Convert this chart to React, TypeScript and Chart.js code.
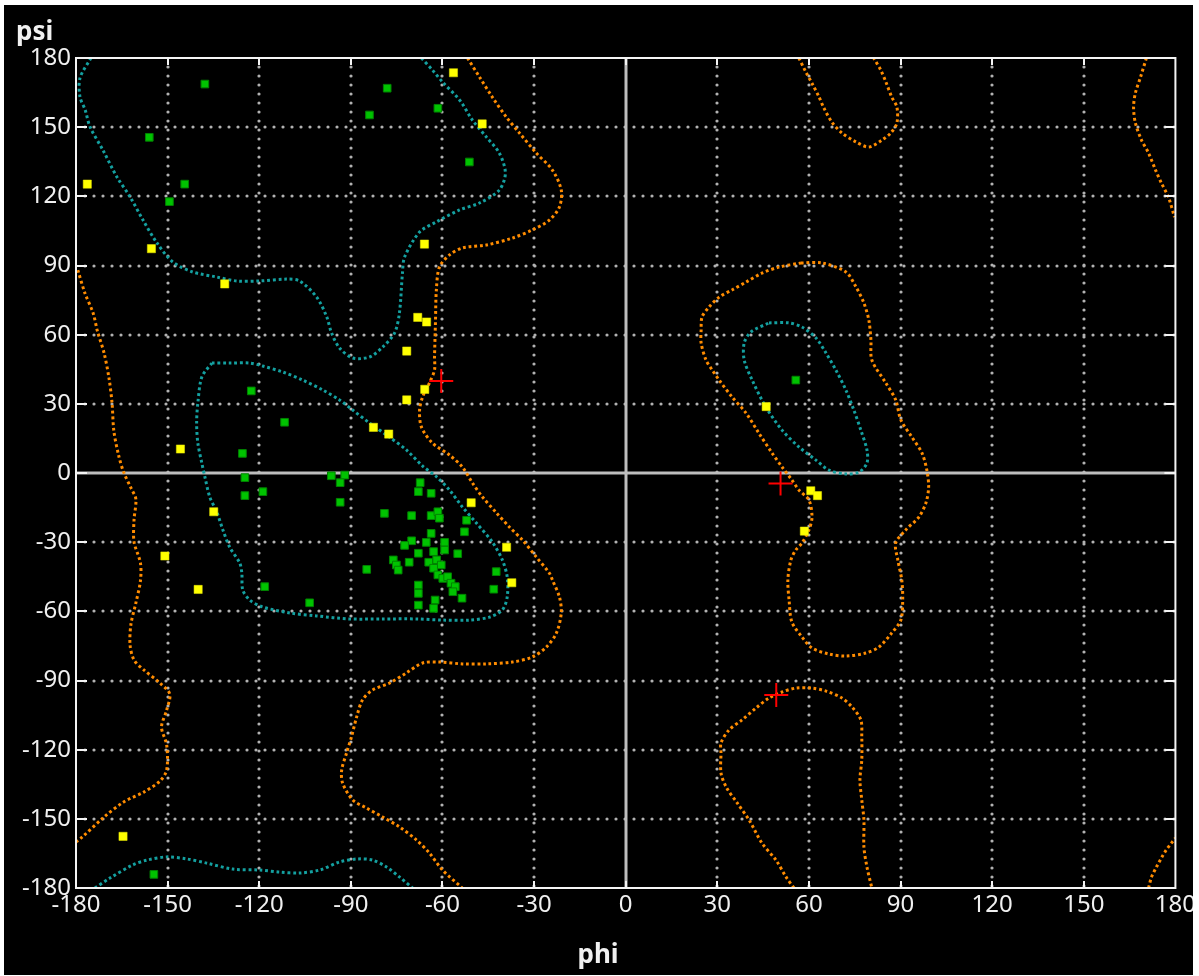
import React, { useEffect, useRef } from "react";
import { Chart, registerables } from "chart.js";

Chart.register(...registerables);

type P = [number, number];

// axis ticks (degrees)
const PHI_TICKS = [-180, -150, -120, -90, -60, -30, 0, 30, 60, 90, 120, 150, 180];
const PSI_TICKS = [-180, -150, -120, -90, -60, -30, 0, 30, 60, 90, 120, 150, 180];

// residues in favoured regions (green)
const GREEN: P[] = [
  [-137.8, 168.7], [-156.0, 145.6], [-144.4, 125.3], [-149.4, 117.7], [-78.1, 166.9],
  [-83.9, 155.3], [-61.5, 158.2], [-51.2, 134.9], [-122.6, 35.6], [-111.7, 22.0],
  [-125.5, 8.5], [-124.7, -2.0], [-124.7, -9.8], [-118.8, -8.1], [-118.2, -49.3],
  [-103.5, -56.3], [-96.4, -1.2], [-92.0, -0.9], [-93.5, -4.2], [-93.5, -12.7],
  [-79.0, -17.5], [-67.3, -4.2], [-67.9, -8.1], [-63.7, -8.8], [-70.1, -18.5],
  [-63.7, -18.5], [-61.5, -16.8], [-61.0, -19.6], [-52.1, -20.5], [-52.8, -25.5],
  [-63.7, -26.2], [-65.3, -30.1], [-70.1, -29.4], [-72.4, -31.4], [-59.3, -30.1],
  [-59.3, -33.4], [-62.9, -34.1], [-67.9, -34.8], [-55.0, -35.0], [-76.1, -37.7],
  [-75.1, -39.9], [-74.5, -42.1], [-70.9, -38.7], [-64.5, -38.7], [-61.9, -37.7],
  [-60.4, -39.9], [-62.9, -41.3], [-61.5, -44.2], [-59.9, -45.7], [-58.3, -45.0],
  [-57.2, -47.8], [-55.8, -49.3], [-56.6, -51.5], [-53.6, -54.3], [-42.4, -42.8],
  [-43.2, -50.4], [-84.8, -41.8], [-67.9, -48.6], [-67.9, -52.2], [-67.9, -57.3],
  [-62.4, -55.1], [-62.9, -58.7], [-154.5, -174.1], [55.7, 40.3],
];

// residues in allowed regions (yellow)
const YELLOW: P[] = [
  [-56.4, 173.6], [-47.0, 151.4], [-176.3, 125.3], [-155.3, 97.3], [-131.3, 82.0],
  [-65.9, 99.3], [-68.1, 67.5], [-65.2, 65.5], [-71.7, 52.9], [-65.8, 36.3],
  [-71.7, 31.7], [-82.6, 19.8], [-77.6, 16.9], [-145.8, 10.4], [-134.9, -16.8],
  [-150.9, -36.0], [-140.0, -50.5], [-50.6, -12.9], [-39.0, -32.2], [-37.3, -47.6],
  [-164.6, -157.6], [46.0, 28.8], [60.6, -7.7], [62.8, -9.8], [58.5, -25.2],
];

// outliers (red crosses)
const OUTLIERS: P[] = [
  [-60.4, 39.9], [50.7, -4.5], [49.3, -96.3],
];

// favoured-region contours (cyan)
const CYAN_BETA: P[] = [
  [-175.1, 180], [-178.7, 171.3], [-178.7, 163.1], [-177.0, 157.5], [-175.4, 150.1],
  [-171.2, 140.1], [-166.6, 128.4], [-162.3, 119.8], [-158.1, 109.8], [-153.5, 99.8],
  [-148.3, 91.5], [-141.8, 87.2], [-133.9, 85.0], [-127.4, 83.3], [-119.8, 83.3],
  [-111.0, 84.1], [-106.8, 83.3], [-101.2, 76.3], [-97.9, 67.7], [-96.3, 60.7],
  [-93.7, 54.2], [-89.4, 49.9], [-83.9, 50.3], [-79.6, 54.6], [-75.7, 60.7],
  [-74.1, 69.4], [-73.1, 86.7], [-72.4, 93.7], [-67.5, 104.5], [-62.0, 108.9],
  [-54.4, 114.1], [-47.9, 117.1], [-41.4, 122.7], [-39.4, 130.1], [-41.4, 138.8],
  [-45.6, 145.7], [-50.2, 153.1], [-54.4, 161.8], [-60.0, 169.6], [-63.3, 174.8],
  [-66.9, 180],
];
const CYAN_BETA_WRAP: P[] = [
  [-173.8, -180], [-168.9, -175.7], [-161.4, -170.0], [-156.8, -167.9], [-150.3, -166.5],
  [-143.7, -167.4], [-137.2, -169.2], [-128.7, -171.8], [-119.8, -172.2], [-113.3, -173.1],
  [-106.8, -173.5], [-100.2, -172.2], [-93.7, -168.7], [-87.8, -167.4], [-82.9, -167.9],
  [-78.3, -170.9], [-74.1, -175.2], [-69.8, -180],
];
const CYAN_ALPHA: P[] = [
  [-135.5, 47.7], [-129.7, 47.7], [-123.1, 47.7], [-118.9, 46.4], [-112.3, 43.8],
  [-105.8, 40.3], [-99.2, 36.0], [-93.7, 31.7], [-89.4, 27.3], [-83.9, 21.7],
  [-77.4, 15.6], [-71.8, 10.0], [-66.5, 3.0], [-61.9, -1.7], [-57.7, -7.4],
  [-53.5, -14.7], [-48.9, -21.7], [-43.7, -29.9], [-40.4, -37.7], [-38.8, -45.1],
  [-38.8, -53.8], [-40.4, -59.4], [-44.6, -62.5], [-51.2, -63.8], [-60.0, -63.8],
  [-68.5, -63.3], [-79.6, -63.3], [-90.4, -63.3], [-101.2, -62.0], [-110.0, -60.7],
  [-118.9, -58.1], [-123.1, -55.1], [-125.4, -50.7], [-125.7, -43.4], [-126.4, -39.0],
  [-129.7, -32.1], [-131.9, -24.7], [-133.9, -16.9], [-136.2, -10.4], [-137.8, -1.7],
  [-138.8, 4.3], [-140.1, 13.0], [-140.5, 21.7], [-140.1, 30.4], [-138.8, 41.6],
  [-135.5, 47.7],
];
const CYAN_LEFT_ALPHA: P[] = [
  [46.9, 65.1], [53.5, 65.1], [57.7, 63.3], [62.3, 58.6], [65.6, 52.0],
  [68.8, 44.7], [72.1, 36.0], [74.7, 27.3], [77.0, 18.6], [79.0, 10.0],
  [79.0, 4.3], [76.4, 0.4], [72.1, -0.4], [66.5, 1.3], [62.3, 5.6],
  [56.7, 11.3], [51.2, 18.6], [45.9, 28.6], [41.4, 40.3], [38.8, 49.0],
  [38.8, 56.4], [41.0, 61.2], [46.9, 65.1],
];

// allowed-region contours (orange)
const ORANGE_MAIN: P[] = [
  [-51.8, 180], [-47.9, 171.8], [-43.7, 163.1], [-39.1, 154.4], [-34.8, 147.5],
  [-29.3, 138.8], [-24.0, 131.4], [-21.1, 122.7], [-21.7, 115.4], [-25.0, 109.7],
  [-30.6, 105.4], [-37.1, 101.9], [-45.6, 98.9], [-53.5, 97.6], [-57.7, 94.6],
  [-61.0, 89.3], [-62.0, 79.4], [-62.3, 65.1], [-62.6, 50.3], [-62.6, 44.7],
  [-64.3, 39.0], [-66.5, 33.0], [-67.5, 27.3], [-66.9, 20.0], [-63.3, 13.0],
  [-57.7, 7.8], [-53.5, 2.6], [-50.2, -4.3], [-46.9, -10.4], [-42.3, -17.3],
  [-38.1, -23.4], [-33.8, -29.1], [-29.3, -36.4], [-25.0, -43.4], [-24.0, -46.4],
  [-21.7, -53.8], [-21.1, -60.7], [-22.7, -69.4], [-26.0, -75.5], [-30.6, -79.8],
  [-37.1, -82.0], [-45.6, -82.8], [-53.5, -82.8], [-61.0, -82.0], [-66.5, -82.4],
  [-71.8, -86.7], [-77.3, -91.1], [-82.9, -94.1], [-86.2, -98.5], [-88.1, -105.8],
  [-89.8, -114.5], [-91.4, -121.4], [-93.0, -128.8], [-92.7, -134.5], [-89.4, -141.8],
  [-84.9, -145.3], [-79.6, -149.2], [-74.1, -153.5], [-68.5, -159.2], [-64.3, -164.8],
  [-60.0, -172.2], [-53.5, -180],
];
const ORANGE_LEFT_EDGE: P[] = [
  [-179.4, 88.0], [-177.1, 78.1], [-174.4, 69.4], [-173.0, 61.6], [-170.8, 52.0],
  [-169.2, 41.2], [-168.2, 30.4], [-167.6, 18.2], [-166.0, 7.4], [-164.4, 0.4],
  [-162.0, -6.5], [-160.4, -11.3], [-161.0, -20.4], [-161.0, -29.9], [-158.9, -39.0],
  [-158.9, -46.8], [-160.4, -56.4], [-162.0, -65.5], [-162.3, -74.6], [-161.0, -81.1],
  [-157.8, -85.4], [-152.5, -91.1], [-149.3, -95.9], [-150.3, -102.8], [-152.0, -110.2],
  [-150.3, -118.0], [-150.3, -128.8], [-152.5, -133.6], [-157.8, -138.4], [-164.4, -142.7],
  [-170.8, -149.2], [-178.3, -158.3], [-180, -160],
];
const ORANGE_LEFT_ALPHA: P[] = [
  [57.4, 91.1], [64.3, 91.1], [72.1, 87.2], [75.4, 80.7], [78.0, 73.7],
  [79.6, 66.4], [80.3, 57.7], [80.6, 49.0], [85.2, 39.0], [88.4, 31.7],
  [90.1, 23.0], [93.7, 15.6], [97.0, 8.7], [98.6, 1.3], [99.2, -6.1],
  [98.3, -13.0], [96.0, -19.1], [91.7, -24.7], [88.4, -30.4], [89.1, -37.7],
  [90.4, -46.4], [90.7, -55.1], [90.1, -63.8], [87.1, -69.4], [82.9, -75.5],
  [78.6, -78.1], [72.1, -79.4], [66.5, -78.5], [61.0, -75.9], [57.7, -71.1],
  [54.4, -64.6], [53.5, -55.1], [53.1, -46.4], [54.1, -37.7], [55.7, -33.4],
  [57.7, -30.4], [60.0, -24.7], [61.0, -19.1], [60.0, -11.7], [56.7, -7.4],
  [54.4, -3.0], [51.2, 2.6], [47.9, 8.7], [43.6, 17.3], [39.4, 26.0],
  [34.8, 33.0], [30.6, 40.3], [28.3, 44.7], [26.3, 49.0], [24.7, 56.4],
  [24.7, 62.0], [25.0, 67.7], [27.3, 72.0], [30.6, 76.3], [34.8, 79.4],
  [39.4, 82.8], [44.6, 86.7], [50.2, 89.3], [57.4, 91.1],
];
const ORANGE_LOWER_RIGHT: P[] = [
  [55.1, -180], [52.5, -175.2], [49.2, -167.9], [44.6, -160.5], [40.4, -150.5],
  [36.5, -143.1], [32.9, -136.2], [31.2, -130.1], [31.2, -121.4], [31.2, -117.1],
  [33.8, -111.5], [38.1, -107.1], [42.7, -101.9], [46.9, -97.6], [51.2, -95.0],
  [55.7, -93.3], [61.0, -93.3], [65.6, -94.6], [70.8, -97.6], [74.1, -101.5],
  [77.0, -107.1], [77.3, -114.5], [77.3, -124.5], [76.7, -133.2], [77.3, -141.8],
  [78.0, -150.5], [78.0, -162.2], [79.0, -170.9], [80.6, -180],
];
const ORANGE_UPPER_RIGHT: P[] = [
  [56.7, 180], [59.0, 173.9], [61.3, 168.3], [63.3, 163.1], [64.9, 158.3],
  [67.5, 152.2], [70.8, 147.5], [75.4, 143.6], [79.6, 141.4], [83.9, 144.4],
  [86.8, 147.5], [88.8, 151.8], [88.8, 158.7], [87.1, 163.1], [85.2, 169.6],
  [83.5, 174.8], [81.2, 180],
];
const ORANGE_RIGHT_EDGE: P[] = [
  [170.5, 180], [168.6, 171.8], [166.9, 164.8], [166.3, 158.7], [166.9, 151.8],
  [168.9, 144.4], [171.2, 138.8], [173.5, 131.4], [175.4, 125.8], [177.7, 119.7],
  [179.7, 111.0],
];
const ORANGE_CORNER: P[] = [
  [171.2, -180], [172.2, -175.2], [173.8, -170.9], [175.4, -167.0], [177.0, -163.5],
  [178.7, -160.5], [180, -158.3],
];

const CYAN = "rgb(20,160,160)";
const ORANGE = "rgb(255,140,0)";
const FONT = '"Noto Sans", "DejaVu Sans", sans-serif';

const toXY = (pts: P[]) => pts.map(([x, y]) => ({ x, y }));

const contour = (pts: P[], color: string) => ({
  data: toXY(pts),
  showLine: true,
  borderColor: color,
  backgroundColor: color,
  borderWidth: 3,
  borderDash: [2.8, 2.8],
  pointRadius: 0,
  pointHoverRadius: 0,
  tension: 0.3,
  order: 10,
});

const framePlugin = {
  id: "ramaFrame",
  beforeDraw(chart: any) {
    const ctx = chart.ctx;
    ctx.save();
    ctx.fillStyle = "#ffffff";
    ctx.fillRect(0, 0, chart.width, chart.height);
    ctx.fillStyle = "#000000";
    ctx.fillRect(4, 5, 1189, 970);
    ctx.restore();
  },
  beforeDatasetsDraw(chart: any) {
    const { ctx, chartArea: a, scales } = chart;
    const xs = scales.x;
    const ys = scales.y;
    ctx.save();
    ctx.strokeStyle = "rgb(178,178,178)";
    ctx.lineWidth = 3.2;
    ctx.lineCap = "round";
    ctx.setLineDash([0, 9]);
    PHI_TICKS.forEach((v) => {
      if (v === 0 || Math.abs(v) === 180) return;
      const px = Math.round(xs.getPixelForValue(v));
      ctx.beginPath();
      ctx.moveTo(px, a.top + 9);
      ctx.lineTo(px, a.bottom);
      ctx.stroke();
    });
    PSI_TICKS.forEach((v) => {
      if (v === 0 || Math.abs(v) === 180) return;
      const py = Math.round(ys.getPixelForValue(v));
      ctx.beginPath();
      ctx.moveTo(a.left + 9, py);
      ctx.lineTo(a.right, py);
      ctx.stroke();
    });
    ctx.setLineDash([]);
    ctx.lineCap = "butt";
    ctx.lineWidth = 3;
    ctx.strokeStyle = "rgb(190,190,190)";
    const x0 = Math.round(xs.getPixelForValue(0));
    const y0 = Math.round(ys.getPixelForValue(0));
    ctx.beginPath();
    ctx.moveTo(x0, a.top);
    ctx.lineTo(x0, a.bottom);
    ctx.moveTo(a.left, y0);
    ctx.lineTo(a.right, y0);
    ctx.stroke();
    ctx.restore();
  },
  afterDatasetsDraw(chart: any) {
    const { ctx, chartArea: a, scales } = chart;
    const xs = scales.x;
    const ys = scales.y;
    ctx.save();
    ctx.strokeStyle = "#f4f4f4";
    ctx.lineWidth = 2;
    ctx.strokeRect(a.left, a.top, a.right - a.left, a.bottom - a.top);
    ctx.beginPath();
    PHI_TICKS.forEach((v) => {
      if (Math.abs(v) === 180) return;
      const px = Math.round(xs.getPixelForValue(v));
      ctx.moveTo(px, a.top);
      ctx.lineTo(px, a.top + 7);
      ctx.moveTo(px, a.bottom);
      ctx.lineTo(px, a.bottom - 7);
    });
    PSI_TICKS.forEach((v) => {
      if (Math.abs(v) === 180) return;
      const py = Math.round(ys.getPixelForValue(v));
      ctx.moveTo(a.left, py);
      ctx.lineTo(a.left + 11, py);
      ctx.moveTo(a.right, py);
      ctx.lineTo(a.right - 11, py);
    });
    ctx.stroke();
    ctx.restore();
  },
  afterDraw(chart: any) {
    const ctx = chart.ctx;
    ctx.save();
    ctx.fillStyle = "#f0f0f0";
    ctx.font = `bold 26px ${FONT}`;
    ctx.textBaseline = "alphabetic";
    ctx.textAlign = "left";
    ctx.fillText("psi", 16, 40);
    ctx.textAlign = "center";
    ctx.fillText("phi", 598, 963);
    ctx.fillStyle = "#ffffff";
    ctx.fillRect(0, 0, 4, chart.height);
    ctx.fillRect(0, 0, chart.width, 5);
    ctx.fillRect(1193, 0, chart.width - 1193, chart.height);
    ctx.fillRect(0, 975, chart.width, chart.height - 975);
    ctx.restore();
  },
};

export default function App() {
  const ref = useRef<HTMLCanvasElement>(null);

  useEffect(() => {
    if (!ref.current) return;
    const tickFont = { family: FONT, size: 24 };
    const chart = new Chart(ref.current, {
      type: "scatter",
      data: {
        datasets: [
          {
            label: "outliers",
            data: toXY(OUTLIERS),
            pointStyle: "cross",
            pointRadius: 12,
            pointHoverRadius: 12,
            borderColor: "#ff0000",
            backgroundColor: "#ff0000",
            borderWidth: 2,
            order: 0,
          },
          {
            label: "allowed",
            data: toXY(YELLOW),
            pointStyle: "rect",
            pointRadius: 5.8,
            pointHoverRadius: 5.8,
            backgroundColor: "#ffff00",
            borderColor: "#e6e600",
            borderWidth: 0.5,
            order: 1,
          },
          {
            label: "favoured",
            data: toXY(GREEN),
            pointStyle: "rect",
            pointRadius: 5.4,
            pointHoverRadius: 5.4,
            backgroundColor: "rgb(0,195,0)",
            borderColor: "rgb(0,130,0)",
            borderWidth: 1,
            order: 2,
          },
          contour(CYAN_BETA, CYAN),
          contour(CYAN_BETA_WRAP, CYAN),
          contour(CYAN_ALPHA, CYAN),
          contour(CYAN_LEFT_ALPHA, CYAN),
          contour(ORANGE_MAIN, ORANGE),
          contour(ORANGE_LEFT_EDGE, ORANGE),
          contour(ORANGE_LEFT_ALPHA, ORANGE),
          contour(ORANGE_LOWER_RIGHT, ORANGE),
          contour(ORANGE_UPPER_RIGHT, ORANGE),
          contour(ORANGE_RIGHT_EDGE, ORANGE),
          contour(ORANGE_CORNER, ORANGE),
        ] as any,
      },
      options: {
        responsive: false,
        animation: false,
        events: [],
        layout: { padding: { left: 0, top: 58, right: 22, bottom: 0 } },
        plugins: {
          legend: { display: false },
          tooltip: { enabled: false },
          title: { display: false },
        },
        scales: {
          x: {
            type: "linear",
            min: -180,
            max: 180,
            afterFit: (s: any) => {
              s.height = 88;
            },
            afterBuildTicks: (s: any) => {
              s.ticks = PHI_TICKS.map((v) => ({ value: v }));
            },
            grid: { display: false, drawTicks: false },
            border: { display: false },
            ticks: {
              stepSize: 30,
              autoSkip: false,
              maxRotation: 0,
              padding: 3,
              color: "#f0f0f0",
              font: tickFont,
              callback: (v: any) => String(v),
            },
          },
          y: {
            type: "linear",
            min: -180,
            max: 180,
            afterFit: (s: any) => {
              s.width = 76;
            },
            afterBuildTicks: (s: any) => {
              s.ticks = PSI_TICKS.map((v) => ({ value: v }));
            },
            grid: { display: false, drawTicks: false },
            border: { display: false },
            ticks: {
              stepSize: 30,
              autoSkip: false,
              padding: 5,
              color: "#f0f0f0",
              font: tickFont,
              callback: (v: any) => String(v),
            },
          },
        },
      } as any,
      plugins: [framePlugin],
    });
    return () => chart.destroy();
  }, []);

  return (
    <div
      style={{
        position: "absolute",
        left: 0,
        top: 0,
        width: 1199,
        height: 976,
        overflow: "hidden",
        background: "#ffffff",
      }}
    >
      <canvas ref={ref} width={1199} height={976} style={{ display: "block", width: 1199, height: 976 }} />
    </div>
  );
}
